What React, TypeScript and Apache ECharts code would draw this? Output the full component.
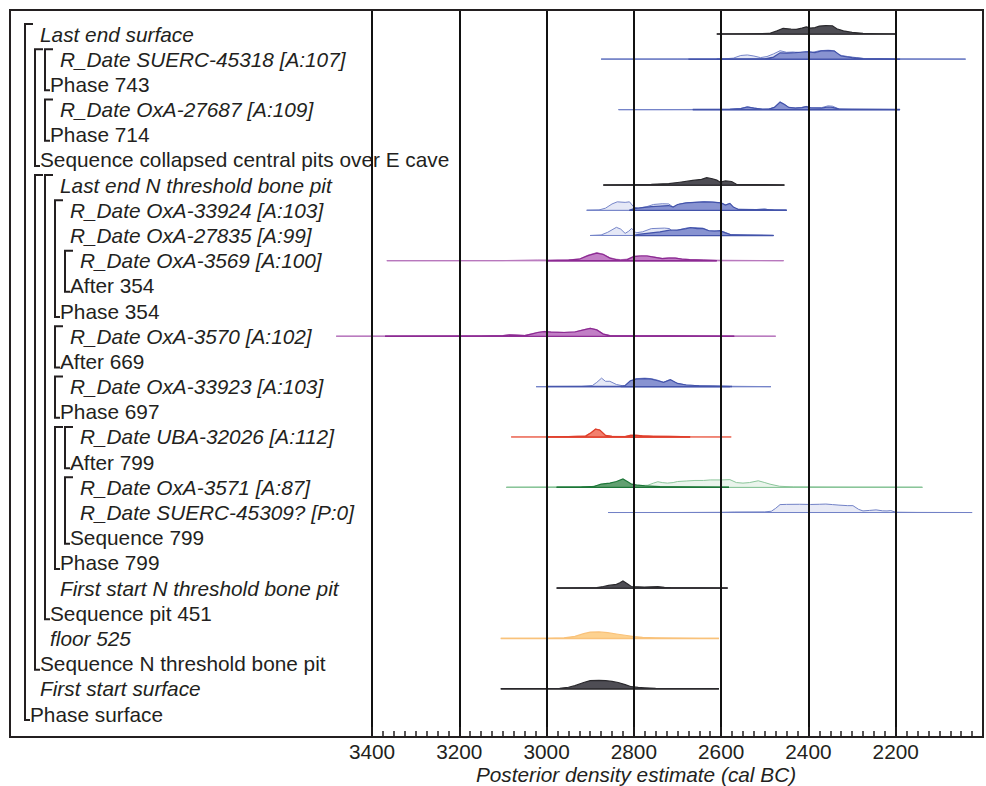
import React, { useEffect, useRef } from 'react';
import * as echarts from 'echarts';

// ---------- tree (labels) ----------
const rowLabels = [
  'Last end surface',
  'R_Date SUERC-45318 [A:107]',
  'Phase 743',
  'R_Date OxA-27687 [A:109]',
  'Phase 714',
  'Sequence collapsed central pits over E cave',
  'Last end N threshold bone pit',
  'R_Date OxA-33924 [A:103]',
  'R_Date OxA-27835 [A:99]',
  'R_Date OxA-3569 [A:100]',
  'After 354',
  'Phase 354',
  'R_Date OxA-3570 [A:102]',
  'After 669',
  'R_Date OxA-33923 [A:103]',
  'Phase 697',
  'R_Date UBA-32026 [A:112]',
  'After 799',
  'R_Date OxA-3571 [A:87]',
  'R_Date SUERC-45309? [P:0]',
  'Sequence 799',
  'Phase 799',
  'First start N threshold bone pit',
  'Sequence pit 451',
  'floor 525',
  'Sequence N threshold bone pit',
  'First start surface',
  'Phase surface',
];
const rowDepths = [1, 3, 2, 3, 2, 1, 3, 4, 4, 5, 4, 3, 4, 3, 4, 3, 5, 4, 5, 5, 4, 3, 3, 2, 2, 1, 1, 0];
const rowIsGroup = [
  false, false, true, false, true, true, false, false, false, false, true, true, false, true,
  false, true, false, true, false, false, true, true, false, true, false, true, false, true,
];

// ---------- axis ----------
const axisMin = 2000;
const axisMax = 3400;
const axisStep = 200;
const axisTitle = 'Posterior density estimate (cal BC)';

// ---------- distributions: [year cal BC, relative density] ----------
const lastEndSurface = [[2610,0],[2540,0.1],[2490,0.5],[2472,3],[2458,5.4],[2440,4.6],[2428,4.4],[2415,5.5],[2405,6.8],[2395,5.6],[2385,6],[2375,7.5],[2360,8],[2345,7.8],[2335,5],[2320,3],[2300,1.5],[2275,0.6],[2240,0.2],[2200,0]];
const suerc45318Prior = [[2875,0],[2700,0.05],[2600,0.1],[2572,1],[2555,3.5],[2540,4],[2525,3],[2510,1.5],[2495,2.5],[2480,5],[2465,8],[2450,6.5],[2435,6.8],[2420,6.2],[2405,7.2],[2390,6.5],[2375,8],[2355,8.5],[2340,8],[2330,4],[2310,2.5],[2290,1.5],[2270,0.5],[2200,0.2],[2040,0]];
const suerc45318Post = [[2610,0],[2500,0.3],[2480,2],[2465,6],[2450,5.8],[2430,6.2],[2410,6.8],[2400,7],[2385,6.2],[2370,7.8],[2350,8],[2340,7.5],[2325,3],[2300,1.5],[2275,0.5],[2200,0]];
const oxa27687Prior = [[2835,0],[2700,0.05],[2580,0.2],[2555,1],[2540,2.7],[2525,1.5],[2505,0.3],[2490,0.6],[2478,2.2],[2465,7.4],[2455,5],[2445,2],[2430,1.5],[2415,2],[2405,3],[2395,1.8],[2370,1.8],[2355,3.5],[2345,3.2],[2330,0.6],[2300,0.2],[2191,0]];
const oxa27687Post = [[2665,0],[2580,0.2],[2555,0.9],[2540,2.4],[2525,1.4],[2505,0.3],[2490,0.5],[2478,2],[2465,7],[2455,4.8],[2445,2],[2430,1.4],[2415,1.9],[2405,2.8],[2395,1.6],[2370,1.4],[2355,2.4],[2345,2],[2330,0.5],[2300,0.2],[2191,0]];
const lastEndN = [[2870,0],[2830,0.2],[2760,0.7],[2720,1.5],[2695,2.7],[2665,4.4],[2645,5.5],[2633,7],[2620,6],[2610,4.7],[2602,2.8],[2590,4],[2576,3.4],[2565,0.8],[2540,0.5],[2500,0.4],[2455,0]];
const oxa33924Prior = [[2908,0],[2880,0.3],[2865,2],[2850,6],[2838,8],[2820,7.5],[2810,8],[2800,3],[2790,2],[2770,3.5],[2755,5.5],[2735,6.2],[2720,6],[2710,3],[2695,6],[2680,7],[2660,7.5],[2640,8],[2620,7.8],[2600,7],[2590,5],[2580,6.5],[2570,2],[2560,0.8],[2520,0.7],[2500,1.2],[2490,0.5],[2450,0]];
const oxa33924Post = [[2810,0],[2800,1.5],[2780,2.5],[2760,3.5],[2740,4],[2720,4.5],[2710,3],[2700,5.5],[2680,7],[2660,7.5],[2640,8],[2620,7.8],[2600,7],[2590,5],[2580,6.5],[2572,3],[2560,0.8],[2520,0.7],[2500,1],[2480,0.3],[2450,0]];
const oxa27835Prior = [[2900,0],[2875,0.5],[2860,3],[2840,7.7],[2830,6],[2820,2],[2812,4],[2805,6.7],[2795,2.5],[2780,3.5],[2760,6.5],[2730,7],[2718,6.5],[2712,3.5],[2700,5],[2680,7],[2660,7.5],[2642,7],[2628,4.5],[2610,4.5],[2595,3.5],[2578,0.8],[2540,0.3],[2480,0]];
const oxa27835Post = [[2800,0],[2790,1],[2760,2.5],[2740,3.5],[2718,5],[2700,5],[2680,6.5],[2670,7.5],[2655,6.5],[2641,6.5],[2628,4.5],[2615,4],[2603,4.5],[2590,2.5],[2576,0.5],[2540,0.3],[2480,0]];
const oxa3569Prior = [[3366,0],[3100,0.1],[3020,0.7],[2990,0.6],[2950,0.8],[2925,1.6],[2905,5.2],[2885,7.6],[2870,6.2],[2855,2.8],[2840,1.4],[2830,1],[2815,1.5],[2800,4.2],[2785,4.7],[2770,4.6],[2755,3.6],[2735,2.2],[2720,2.7],[2705,2.6],[2690,1.6],[2672,1.1],[2640,0.7],[2600,0.4],[2457,0]];
const oxa3569Post = [[3000,0],[2950,0.6],[2925,1.4],[2905,4.8],[2885,7.2],[2870,5.8],[2855,2.4],[2840,0.9],[2830,0.3],[2815,1],[2800,3.9],[2785,4.4],[2770,4.4],[2755,3.4],[2735,1.9],[2720,2.4],[2705,2.4],[2690,1.4],[2672,0.9],[2640,0.5],[2610,0]];
const oxa3570Prior = [[3482,0],[3300,0.1],[3150,0.2],[3100,0.6],[3085,1.3],[3070,1.1],[3050,0.8],[3035,2.2],[3020,3.7],[3005,4.6],[2990,4],[2960,3.7],[2935,4.2],[2915,6.2],[2900,7.6],[2885,6.2],[2870,2.2],[2855,0.7],[2800,0.5],[2720,0.4],[2650,0.2],[2475,0]];
const oxa3570Post = [[3370,0],[3150,0.1],[3100,0.5],[3085,1.2],[3070,1],[3050,0.6],[3035,2],[3020,3.5],[3005,4.4],[2990,3.8],[2960,3.5],[2935,4],[2915,6],[2900,7.4],[2885,6],[2870,2],[2855,0.5],[2800,0.4],[2720,0.3],[2650,0.1],[2570,0]];
const oxa33923Prior = [[3024,0],[2920,0.2],[2895,1],[2885,4],[2874,8],[2865,5],[2855,5],[2840,2],[2825,0.7],[2815,1],[2808,5],[2795,7.5],[2775,8],[2760,7.5],[2745,6],[2732,4],[2718,6.5],[2700,3],[2680,1.5],[2650,0.8],[2620,0.5],[2580,0.3],[2486,0]];
const oxa33923Post = [[2830,0],[2820,1],[2808,5.5],[2795,7],[2775,7.5],[2760,7],[2745,5.5],[2732,4],[2716,6.5],[2700,3],[2680,1.5],[2650,0.8],[2620,0.5],[2580,0]];
const uba32026Prior = [[3081,0],[2960,0.3],[2912,0.9],[2898,4.2],[2888,7.5],[2878,6.7],[2865,1.7],[2850,0.6],[2820,0.5],[2808,1.7],[2795,1.8],[2780,1.2],[2755,0.8],[2720,0.6],[2680,0.4],[2577,0]];
const uba32026Post = [[3000,0],[2950,0.3],[2910,0.8],[2898,4],[2888,7.3],[2878,6.5],[2865,1.5],[2850,0.5],[2820,0.4],[2808,1.5],[2795,1.6],[2780,1],[2755,0.6],[2720,0.5],[2690,0.3],[2671,0]];
const oxa3571Prior = [[3092,0],[2990,0.2],[2900,0.5],[2880,2],[2860,3.5],[2845,4],[2830,4.5],[2815,3],[2795,1.5],[2780,1.8],[2768,2],[2755,4],[2745,5.3],[2735,4.5],[2723,4],[2710,4.5],[2700,5.5],[2680,6],[2660,6.5],[2640,6.5],[2625,7],[2600,7],[2580,7.3],[2565,4.5],[2550,4],[2535,4.5],[2515,6.2],[2500,4.5],[2488,3],[2466,1],[2434,0.4],[2300,0.1],[2139,0]];
const oxa3571Post = [[2977,0],[2920,0.3],[2890,1],[2875,3],[2855,4],[2840,5.5],[2825,8],[2815,5.5],[2805,3],[2790,2],[2775,1.5],[2740,0.8],[2700,0.5],[2640,0.3],[2582,0]];
const suerc45309Prior = [[2859,0],[2700,0.05],[2600,0.2],[2570,0.5],[2500,0.6],[2485,1.2],[2475,4],[2465,7.5],[2450,7.7],[2420,7.8],[2395,7.6],[2375,7.8],[2360,8],[2345,7.5],[2330,7],[2310,6.5],[2298,6.5],[2285,3],[2275,1.5],[2260,2],[2245,2.5],[2230,1.6],[2220,1.5],[2211,1.8],[2200,0.3],[2150,0.1],[2025,0]];
const firstStartN = [[2977,0],[2920,0.2],[2885,0.5],[2870,1.5],[2858,2.5],[2840,3.5],[2832,5],[2825,6.7],[2815,4],[2806,1.5],[2790,1.2],[2776,1],[2760,1.2],[2745,1.3],[2730,0.8],[2716,0.5],[2690,0.3],[2650,0.1],[2585,0]];
const floor525 = [[3105,0],[3000,0.1],[2960,0.5],[2935,2],[2915,4.5],[2900,6],[2880,6.2],[2860,5.5],[2840,4.2],[2820,3],[2800,1.8],[2780,1],[2750,0.6],[2700,0.3],[2650,0.1],[2605,0]];
const firstStartSurface = [[3105,0],[3000,0.1],[2970,0.5],[2950,1.5],[2935,3],[2915,6],[2900,7.8],[2880,8],[2865,7.8],[2850,7],[2836,6],[2820,4],[2806,2],[2790,1.3],[2776,1],[2750,0.5],[2720,0.3],[2650,0.1],[2605,0]];

// row, palette, prior range, posterior range, prior curve, posterior curve
const dists = [
  { row: 0, pal: 'boundary', priorRange: null, postRange: [2610, 2200], prior: null, post: lastEndSurface },
  { row: 1, pal: 'blue', priorRange: [2875, 2040], postRange: [2675, 2190], prior: suerc45318Prior, post: suerc45318Post },
  { row: 3, pal: 'blue', priorRange: [2835, 2190], postRange: [2665, 2190], prior: oxa27687Prior, post: oxa27687Post },
  { row: 6, pal: 'boundary', priorRange: null, postRange: [2870, 2455], prior: null, post: lastEndN },
  { row: 7, pal: 'blue', priorRange: [2908, 2450], postRange: [2810, 2450], prior: oxa33924Prior, post: oxa33924Post },
  { row: 8, pal: 'blue', priorRange: [2900, 2480], postRange: [2800, 2480], prior: oxa27835Prior, post: oxa27835Post },
  { row: 9, pal: 'purple', priorRange: [3366, 2457], postRange: [3000, 2610], prior: oxa3569Prior, post: oxa3569Post },
  { row: 12, pal: 'purple', priorRange: [3482, 2475], postRange: [3370, 2570], prior: oxa3570Prior, post: oxa3570Post },
  { row: 14, pal: 'blue', priorRange: [3024, 2486], postRange: [3000, 2575], prior: oxa33923Prior, post: oxa33923Post },
  { row: 16, pal: 'red', priorRange: [3081, 2577], postRange: [3000, 2671], prior: uba32026Prior, post: uba32026Post },
  { row: 18, pal: 'green', priorRange: [3092, 2139], postRange: [2977, 2582], prior: oxa3571Prior, post: oxa3571Post },
  { row: 19, pal: 'pale', priorRange: [2859, 2025], postRange: null, prior: suerc45309Prior, post: null },
  { row: 22, pal: 'boundary', priorRange: null, postRange: [2977, 2585], prior: null, post: firstStartN },
  { row: 24, pal: 'orange', priorRange: null, postRange: [3105, 2605], prior: null, post: floor525 },
  { row: 26, pal: 'boundary', priorRange: null, postRange: [3105, 2605], prior: null, post: firstStartSurface },
];

// ---------- styles ----------
const palettes: Record<string, any> = {
  boundary: { priorLine: '#231f20', postLine: '#231f20', priorFill: '#ddd', priorStroke: '#999', postFill: '#4e4d54', postStroke: '#2b2a2e' },
  blue: { priorLine: '#6f7ec6', postLine: '#4656ac', priorFill: '#e5e8f6', priorStroke: '#7685c9', postFill: '#8893d1', postStroke: '#4353aa' },
  purple: { priorLine: '#c78ccb', postLine: '#8c2a92', priorFill: '#e8cbea', priorStroke: '#b878bd', postFill: '#c27fc6', postStroke: '#8c2a92' },
  red: { priorLine: '#ea5643', postLine: '#e24532', priorFill: '#f8c0b5', priorStroke: '#ef8372', postFill: '#f2806e', postStroke: '#df3f2c' },
  green: { priorLine: '#62b27c', postLine: '#1f7a3b', priorFill: '#eaf4ec', priorStroke: '#8cc69b', postFill: '#62a071', postStroke: '#1d7638' },
  orange: { priorLine: '#f8c27a', postLine: '#f8c07a', priorFill: '#fde3bd', priorStroke: '#f8c07a', postFill: '#fdd290', postStroke: '#f9c27a' },
  pale: { priorLine: '#4959aa', postLine: '#4959aa', priorFill: '#e8eaf6', priorStroke: '#7282c7', postFill: '#e8eaf6', postStroke: '#7282c7' },
};
const DENS_TO_ROWS = 0.042;
const FONT = '"Liberation Sans", Arial, Helvetica, sans-serif';
const FONT_SIZE = 20.8;
const INK = '#231f20';

function curvePoints(api: any, pts: number[][], row: number) {
  const out: number[][] = [];
  out.push(api.coord([pts[0][0], row]));
  for (const [yr, d] of pts) out.push(api.coord([yr, row - d * DENS_TO_ROWS]));
  out.push(api.coord([pts[pts.length - 1][0], row]));
  return out;
}

function renderDist(params: any, api: any) {
  const d = dists[params.dataIndex];
  const p = palettes[d.pal];
  const children: any[] = [];
  const lineEl = (range: number[], color: string, w: number) => {
    const a = api.coord([range[0], d.row]);
    const b = api.coord([range[1], d.row]);
    return { type: 'line', shape: { x1: a[0], y1: a[1], x2: b[0], y2: b[1] }, style: { stroke: color, lineWidth: w } };
  };
  if (d.priorRange) children.push(lineEl(d.priorRange, p.priorLine, 1.2));
  if (d.prior) children.push({ type: 'polygon', shape: { points: curvePoints(api, d.prior, d.row) }, style: { fill: p.priorFill, stroke: p.priorStroke, lineWidth: 1 } });
  if (d.postRange) children.push(lineEl(d.postRange, p.postLine, 1.5));
  if (d.post) children.push({ type: 'polygon', shape: { points: curvePoints(api, d.post, d.row) }, style: { fill: p.postFill, stroke: p.postStroke, lineWidth: 1.2 } });
  return { type: 'group', children };
}

function renderTree(params: any, api: any) {
  const i = params.dataIndex;
  const depth = rowDepths[i];
  const yc = api.coord([axisMax, i])[1];
  const children: any[] = [];
  children.push({
    type: 'text',
    style: {
      text: rowLabels[i], x: 30 + 10 * depth, y: yc, fill: INK,
      font: (rowIsGroup[i] ? '' : 'italic ') + FONT_SIZE + 'px ' + FONT,
      verticalAlign: 'middle', align: 'left',
    },
  });
  if (rowIsGroup[i]) {
    let start = i;
    while (start - 1 >= 0 && rowDepths[start - 1] > depth) start--;
    const ys = api.coord([axisMax, start])[1] - 10;
    const ye = yc + 6;
    const bx = 25 + 10 * depth;
    children.push({ type: 'polyline', shape: { points: [[bx + 8, ys], [bx, ys], [bx, ye], [bx + 5, ye]] }, style: { stroke: INK, lineWidth: 2, fill: null } });
  }
  return { type: 'group', children };
}

export default function App() {
  const ref = useRef<HTMLDivElement>(null);
  useEffect(() => {
    if (!ref.current) return;
    const chart = echarts.init(ref.current, null, { renderer: 'svg' });
    chart.setOption({
      animation: false,
      backgroundColor: '#ffffff',
      grid: { left: 372, top: 10, width: 616, height: 727 },
      xAxis: {
        type: 'value', inverse: true, min: axisMin, max: axisMax, interval: axisStep, z: 10, position: 'bottom',
        axisLine: { show: true, onZero: false, lineStyle: { color: INK, width: 2 } },
        axisTick: { show: true, inside: true, length: 10, lineStyle: { color: INK, width: 1.5 } },
        minorTick: { show: true, splitNumber: 8, length: 6, lineStyle: { color: INK, width: 1.5 } },
        splitLine: { show: true, lineStyle: { color: '#111', width: 2 } },
        axisLabel: {
          color: INK, fontSize: FONT_SIZE, fontFamily: FONT, margin: 4,
          formatter: (v: number) => (v === axisMin ? '' : String(v)),
        },
      },
      yAxis: { type: 'value', inverse: true, min: -0.953, max: 27.913, show: false },
      graphic: [
        { type: 'rect', z: 20, shape: { x: 10, y: 10, width: 973, height: 727 }, style: { fill: 'none', stroke: INK, lineWidth: 2 } },
        { type: 'text', z: 20, x: 636, y: 774, style: { text: axisTitle, font: 'italic ' + FONT_SIZE + 'px ' + FONT, fill: INK, align: 'center', verticalAlign: 'middle' } },
      ],
      series: [
        {
          type: 'custom', clip: false, renderItem: renderDist,
          data: dists.map((d) => [d.postRange ? d.postRange[0] : d.priorRange![0], d.row]),
        },
        {
          type: 'custom', clip: false, renderItem: renderTree,
          data: rowLabels.map((_, i) => [axisMax, i]),
        },
      ],
    });
    return () => chart.dispose();
  }, []);
  return <div ref={ref} style={{ position: 'absolute', left: 0, top: 0, width: 986, height: 786 }} />;
}
